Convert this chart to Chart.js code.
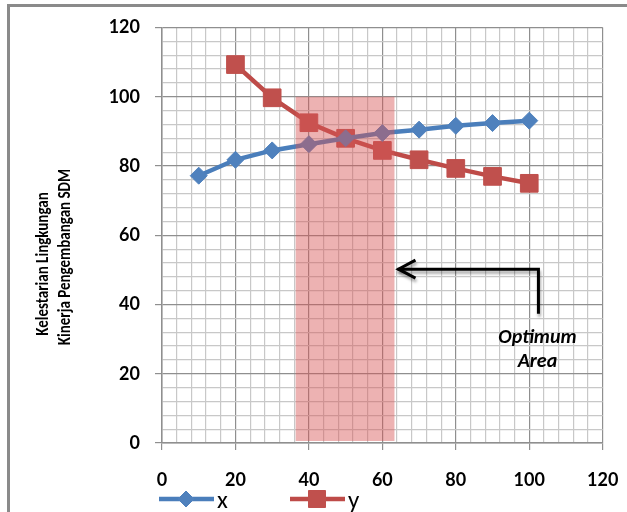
<!DOCTYPE html>
<html>
<head>
<meta charset="utf-8">
<script src="https://cdn.jsdelivr.net/npm/chart.js@4/dist/chart.umd.min.js"></script>
<style>
  html, body { margin: 0; padding: 0; background: #fff; }
  #wrap { position: relative; width: 627px; height: 512px; overflow: hidden; }
  #frame { position: absolute; left: 7px; top: 4px; width: 640px; height: 520px;
           border-left: 3px solid #8a8a8a; border-top: 3px solid #8a8a8a; }
  canvas { position: absolute; left: 0; top: 0; }
</style>
</head>
<body>
<div id="wrap">
  <div id="frame"></div>
  <canvas id="myChart" width="627" height="512"></canvas>
</div>
<script>
// values
const xValuesX = [10, 20, 30, 40, 50, 60, 70, 80, 90, 100];
const seriesX = [77.2, 81.8, 84.5, 86.3, 88.0, 89.5, 90.5, 91.6, 92.4, 93.1];
const xValuesY = [20, 30, 40, 50, 60, 70, 80, 90, 100];
const seriesY = [109.3, 99.7, 92.5, 88.0, 84.5, 81.8, 79.3, 77.0, 75.0];
const seriesNames = ["x", "y"];
const yTitle = ["Kelestarian Lingkungan", "Kinerja Pengembangan SDM"];
const areaLabel = ["Optimum", "Area"];
// shaded band (data units)
const optimumFrom = 36.4;
const optimumTo = 63.3;
const optimumTop = 100;

const FONT = "Carlito, Lato, 'Open Sans', sans-serif";
const TICK_FONT = "Lato, 'Open Sans', sans-serif";
const BLUE = "#4A7EBB";
const RED = "#BE4B48";

function gridColor(ctx) {
  return ctx.tick && ctx.tick.value % 20 === 0 ? "#8f8f8f" : "#c8c8c8";
}
function tickColor(ctx) {
  return ctx.tick && ctx.tick.value % 20 === 0 ? "#8f8f8f" : "rgba(0,0,0,0)";
}
function majorOnly(v) {
  return v % 20 === 0 ? v : "";
}

// shaded area, arrow, label, axis title and legend
const extras = {
  id: "extras",
  afterDatasetsDraw(chart) {
    const { ctx, scales } = chart;
    const xs = scales.x, ys = scales.y;

    // optimum band drawn on top of the lines
    ctx.save();
    ctx.fillStyle = "rgba(214,84,84,0.45)";
    const x0 = xs.getPixelForValue(optimumFrom);
    const x1 = xs.getPixelForValue(optimumTo);
    const y0 = ys.getPixelForValue(optimumTop);
    const y1 = ys.getPixelForValue(0) - 2;
    ctx.fillRect(x0, y0, x1 - x0, y1 - y0);
    ctx.restore();

    // arrow pointing at the band
    const cx = xs.getPixelForValue(102.5);
    const cy = ys.getPixelForValue(50.2);
    const by = ys.getPixelForValue(37.3);
    const tip = x1 + 3;
    ctx.save();
    ctx.strokeStyle = "#000";
    ctx.lineWidth = 3;
    ctx.lineCap = "butt";
    ctx.lineJoin = "miter";
    ctx.shadowColor = "rgba(0,0,0,0.35)";
    ctx.shadowOffsetY = 3;
    ctx.shadowOffsetX = 1;
    ctx.shadowBlur = 3;
    ctx.beginPath();
    ctx.moveTo(cx, by);
    ctx.lineTo(cx, cy);
    ctx.lineTo(tip, cy);
    ctx.stroke();
    ctx.beginPath();
    ctx.moveTo(tip + 18, cy - 9);
    ctx.lineTo(tip + 1, cy);
    ctx.lineTo(tip + 18, cy + 9);
    ctx.stroke();
    ctx.restore();

    ctx.save();
    ctx.fillStyle = "#000";
    ctx.font = "italic bold 20px " + FONT;
    ctx.textAlign = "center";
    ctx.textBaseline = "middle";
    ctx.fillText(areaLabel[0], cx - 1, 338);
    ctx.fillText(areaLabel[1], cx - 1, 362);
    ctx.restore();
  },
  afterDraw(chart) {
    const { ctx } = chart;
    // rotated y title, two lines (glyphs a bit stretched like the source)
    ctx.save();
    ctx.fillStyle = "#000";
    ctx.font = "bold 15px " + FONT;
    ctx.textAlign = "center";
    ctx.textBaseline = "middle";
    ctx.translate(44, 264);
    ctx.rotate(-Math.PI / 2);
    ctx.scale(1, 1.15);
    ctx.fillText(yTitle[0], 0, 0);
    ctx.fillText(yTitle[1], 7, 19);
    ctx.restore();

    // legend: line with marker, then name
    const items = [
      { x: 159, color: BLUE, fill: "#4F81BD", style: "rectRot", r: 8 },
      { x: 290, color: RED, fill: "#C0504D", style: "rect", r: 12 },
    ];
    items.forEach((it, i) => {
      const y = 499;
      ctx.save();
      ctx.strokeStyle = it.color;
      ctx.lineWidth = 4.5;
      ctx.beginPath();
      ctx.moveTo(it.x, y);
      ctx.lineTo(it.x + 55, y);
      ctx.stroke();
      ctx.fillStyle = it.fill;
      ctx.strokeStyle = it.fill;
      ctx.lineWidth = 1;
      Chart.helpers.drawPoint(ctx, { pointStyle: it.style, radius: it.r, borderWidth: 1 }, it.x + 27, y);
      ctx.fillStyle = "#000";
      ctx.font = "25px " + FONT;
      ctx.textAlign = "left";
      ctx.textBaseline = "alphabetic";
      ctx.fillText(seriesNames[i], it.x + 58, 508);
      ctx.restore();
    });
  },
};

const config = {
  type: "line",
  data: {
    datasets: [
      {
        label: seriesNames[0],
        data: xValuesX.map((x, i) => ({ x, y: seriesX[i] })),
        borderColor: BLUE,
        backgroundColor: "#4F81BD",
        pointBorderColor: "#4F81BD",
        borderWidth: 4.5,
        pointStyle: "rectRot",
        pointRadius: 8.5,
        pointBorderWidth: 1,
        tension: 0,
      },
      {
        label: seriesNames[1],
        data: xValuesY.map((x, i) => ({ x, y: seriesY[i] })),
        borderColor: RED,
        backgroundColor: "#C0504D",
        pointBorderColor: "#C0504D",
        borderWidth: 4.5,
        pointStyle: "rect",
        pointRadius: 12.5,
        pointBorderWidth: 1,
        tension: 0,
      },
    ],
  },
  options: {
    responsive: false,
    animation: false,
    events: [],
    layout: { padding: { left: 0, right: 24.3, top: 27.5, bottom: 0 } },
    plugins: { legend: { display: false }, tooltip: { enabled: false } },
    scales: {
      x: {
        type: "linear",
        min: 0,
        max: 120,
        afterFit: (s) => { s.height = 69; s.paddingLeft = 0; s.paddingRight = 0; },
        border: { color: "#8f8f8f", width: 1.5 },
        grid: { color: gridColor, tickColor: tickColor, tickLength: 7, lineWidth: 1.2 },
        ticks: {
          stepSize: 4,
          autoSkip: false,
          maxRotation: 0,
          padding: 19,
          color: "#000",
          font: { family: TICK_FONT, size: 18, weight: "bold" },
          callback: majorOnly,
        },
      },
      y: {
        min: 0,
        max: 120,
        afterFit: (s) => { s.width = 162; s.paddingTop = 0; s.paddingBottom = 0; },
        border: { color: "#8f8f8f", width: 1.5 },
        grid: { color: gridColor, tickColor: tickColor, tickLength: 7, lineWidth: 1.2 },
        ticks: {
          stepSize: 4,
          autoSkip: false,
          padding: 15,
          color: "#000",
          font: { family: TICK_FONT, size: 18, weight: "bold" },
          callback: majorOnly,
        },
      },
    },
  },
  plugins: [extras],
};

new Chart(document.getElementById("myChart"), config);
</script>
</body>
</html>
